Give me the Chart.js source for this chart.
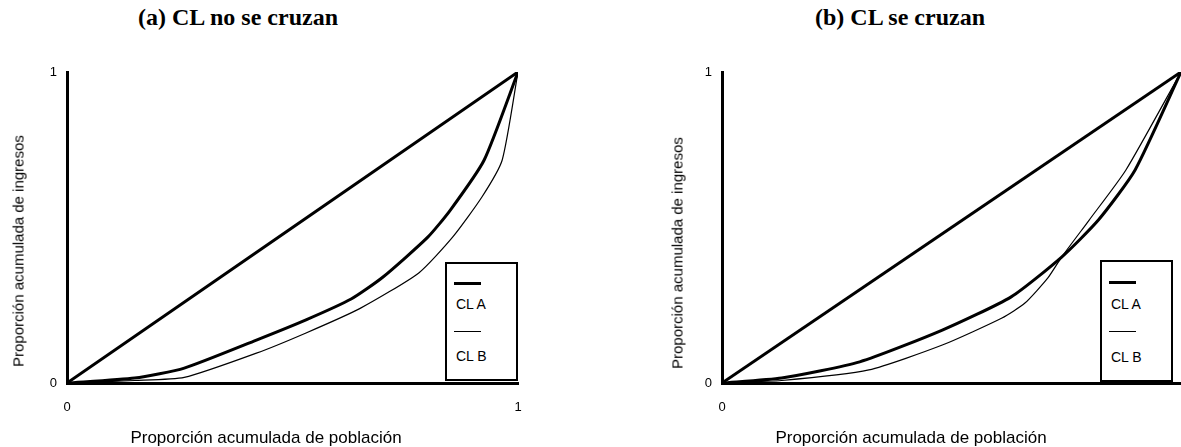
<!DOCTYPE html>
<html>
<head>
<meta charset="utf-8">
<script src="https://cdn.jsdelivr.net/npm/chart.js@4.4.1/dist/chart.umd.min.js"></script>
<style>
  body { margin: 0; background: #fff; }
  #wrap { position: relative; width: 1181px; height: 447px; overflow: hidden; }
  .titulo { position: absolute; top: 4px; font: bold 24px "Liberation Serif", "Times New Roman", serif; color: #000; white-space: nowrap; transform: translateX(-50%); }
  .panel { position: absolute; top: 0; height: 447px; }
  .eje { position: absolute; font-family: "Liberation Sans", Arial, sans-serif; color: #000; white-space: nowrap; line-height: 1; }
  .ejeX { font-size: 17px; transform: translate(-50%, -50%); }
  .ejeY { font-size: 15px; transform: translate(-50%, -50%) rotate(-90deg); }
  .leyenda { position: absolute; border: 2px solid #000; background: #fff; font: 14px "Liberation Sans", Arial, sans-serif; color: #000; box-sizing: border-box; }
  .leyenda .linea { position: absolute; left: 7px; width: 27px; background: #000; }
  .leyenda .txt { position: absolute; left: 9px; }
</style>
</head>
<body>
<div id="wrap">
  <div class="titulo" style="left:238px">(a) CL no se cruzan</div>
  <div class="titulo" style="left:900px">(b) CL se cruzan</div>

  <div class="panel" style="left:0;width:600px"><canvas id="chartA"></canvas></div>
  <div class="panel" style="left:660px;width:521px"><canvas id="chartB"></canvas></div>

  <div class="eje ejeY" style="left:18px;top:251px">Proporción acumulada de ingresos</div>
  <div class="eje ejeX" style="left:266px;top:437px">Proporción acumulada de población</div>
  <div class="eje ejeY" style="left:677px;top:253px">Proporción acumulada de ingresos</div>
  <div class="eje ejeX" style="left:911px;top:437px">Proporción acumulada de población</div>

  <div class="leyenda" style="left:445px;top:262px;width:73px;height:119px">
    <div class="linea" style="top:18px;height:3px"></div>
    <div class="txt" style="top:32px">CL A</div>
    <div class="linea" style="top:67px;height:1px"></div>
    <div class="txt" style="top:84px">CL B</div>
  </div>
  <div class="leyenda" style="left:1100px;top:260px;width:73px;height:122px">
    <div class="linea" style="top:19px;height:3px"></div>
    <div class="txt" style="top:34px">CL A</div>
    <div class="linea" style="top:69px;height:1px"></div>
    <div class="txt" style="top:87px">CL B</div>
  </div>
</div>

<script>
// ==========================
// DATOS
// ==========================
const igualdadX = [0, 1];
const igualdadY = [0, 1];

// (a) CL no se cruzan
const poblA_clA = [0, 0.15, 0.26, 0.42, 0.53, 0.63, 0.70, 0.80, 0.85, 0.925, 1];
const ingrA_clA = [0, 0.016, 0.048, 0.138, 0.203, 0.27, 0.34, 0.469, 0.556, 0.717, 1];
const poblA_clB = [0, 0.15, 0.26, 0.42, 0.53, 0.65, 0.78, 0.855, 0.92, 0.965, 1];
const ingrA_clB = [0, 0.008, 0.018, 0.096, 0.161, 0.24, 0.354, 0.469, 0.598, 0.717, 1];

// (b) CL se cruzan
const poblB_clA = [0, 0.13, 0.30, 0.48, 0.63, 0.74, 0.82, 0.90, 1];
const ingrB_clA = [0, 0.016, 0.068, 0.17, 0.277, 0.405, 0.524, 0.685, 1];
const poblB_clB = [0, 0.13, 0.32, 0.48, 0.61, 0.66, 0.71, 0.74, 0.80, 0.88, 1];
const ingrB_clB = [0, 0.008, 0.042, 0.122, 0.209, 0.257, 0.338, 0.405, 0.524, 0.685, 1];

const ticksY = [0, 1];
const ticksX_a = [0, 1];
const ticksX_b = [0];

// ==========================
// HELPER
// ==========================
function puntos(xs, ys) {
  return xs.map((x, i) => ({ x: x, y: ys[i] }));
}

function serie(xs, ys, grosor) {
  return {
    data: puntos(xs, ys),
    borderColor: "#000",
    borderWidth: grosor,
    pointRadius: 0,
    tension: 0.2,
    fill: false
  };
}

const fuente = { family: "'Liberation Sans', Arial, sans-serif", size: 13 };

function crearGrafico(id, datasets, ticksX, anchoY, padDerecha) {
  const ctx = document.getElementById(id);
  const sinPadding = (s) => { s.paddingLeft = 0; s.paddingRight = 0; s.paddingTop = 0; s.paddingBottom = 0; };
  return new Chart(ctx, {
    type: "line",
    data: { datasets: datasets },
    options: {
      responsive: true,
      maintainAspectRatio: false,
      animation: false,
      layout: { padding: { top: 72, right: padDerecha, left: 0, bottom: 0 } },
      plugins: { legend: { display: false }, tooltip: { enabled: false } },
      scales: {
        x: {
          type: "linear",
          min: 0, max: 1,
          border: { display: true, color: "#000", width: 3 },
          grid: { display: false, drawTicks: false },
          afterBuildTicks: (s) => { s.ticks = ticksX.map(v => ({ value: v })); },
          ticks: { color: "#000", font: fuente, padding: 17, maxRotation: 0, callback: (v) => String(v) },
          afterFit: (s) => { s.height = 64; sinPadding(s); }
        },
        y: {
          type: "linear",
          min: 0, max: 1,
          border: { display: true, color: "#000", width: 3 },
          grid: { display: false, drawTicks: false },
          afterBuildTicks: (s) => { s.ticks = ticksY.map(v => ({ value: v })); },
          ticks: { color: "#000", font: fuente, padding: 10, callback: (v) => String(v) },
          afterFit: (s) => { s.width = anchoY; sinPadding(s); }
        }
      }
    }
  });
}

// ==========================
// INIT
// ==========================
crearGrafico("chartA", [
  serie(igualdadX, igualdadY, 3),
  serie(poblA_clA, ingrA_clA, 3),
  serie(poblA_clB, ingrA_clB, 1.2)
], ticksX_a, 67, 82);

crearGrafico("chartB", [
  serie(igualdadX, igualdadY, 3),
  serie(poblB_clA, ingrB_clA, 3),
  serie(poblB_clB, ingrB_clB, 1.2)
], ticksX_b, 62, 0);
</script>
</body>
</html>
